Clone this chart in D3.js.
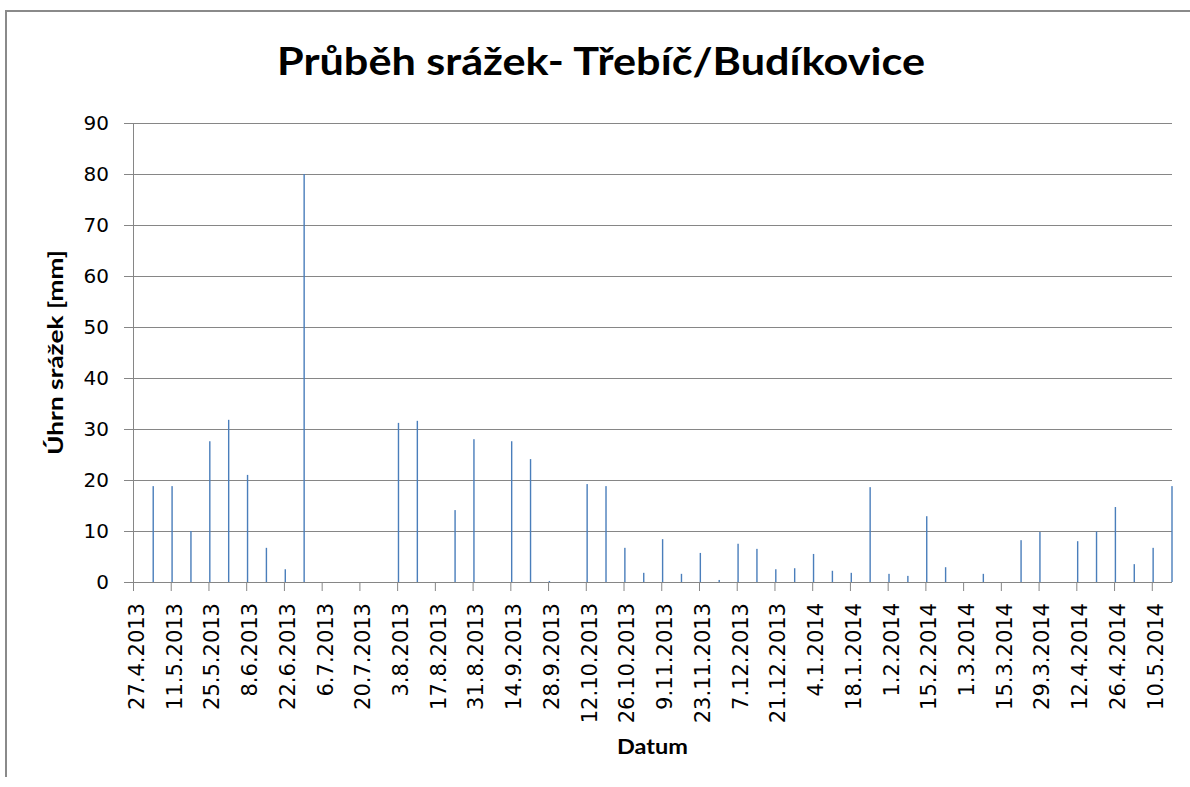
<!DOCTYPE html>
<html>
<head>
<meta charset="utf-8">
<script src="https://cdn.jsdelivr.net/npm/d3@7"></script>
<style>
  body { margin: 0; background: #fff; }
  .tick text { font-family: "DejaVu Sans", sans-serif; fill: #000; }
</style>
</head>
<body>
<svg id="chart"></svg>
<script>
// weekly precipitation totals (mm)
const weekDates = [
  "4.5.2013","11.5.2013","18.5.2013","25.5.2013","1.6.2013","8.6.2013","15.6.2013","22.6.2013","29.6.2013",
  "6.7.2013","13.7.2013","20.7.2013","27.7.2013","3.8.2013","10.8.2013","17.8.2013","24.8.2013","31.8.2013",
  "7.9.2013","14.9.2013","21.9.2013","28.9.2013","5.10.2013","12.10.2013","19.10.2013","26.10.2013",
  "2.11.2013","9.11.2013","16.11.2013","23.11.2013","30.11.2013","7.12.2013","14.12.2013","21.12.2013","28.12.2013",
  "4.1.2014","11.1.2014","18.1.2014","25.1.2014","1.2.2014","8.2.2014","15.2.2014","22.2.2014",
  "1.3.2014","8.3.2014","15.3.2014","22.3.2014","29.3.2014","5.4.2014","12.4.2014","19.4.2014","26.4.2014",
  "3.5.2014","10.5.2014","17.5.2014"
];
const rainfall = [
  18.8, 18.8, 10.0, 27.6, 31.8, 21.0, 6.7, 2.5, 80.0,
  0, 0, 0, 0, 31.2, 31.6, 0, 14.1, 28.0,
  0, 27.6, 24.1, 0.2, 0, 19.2, 18.8, 6.7,
  1.8, 8.4, 1.6, 5.7, 0.4, 7.5, 6.5, 2.5, 2.7,
  5.5, 2.2, 1.8, 18.6, 1.6, 1.2, 12.9, 2.9,
  0, 1.6, 0, 8.2, 9.8, 0, 8.0, 9.9, 14.7,
  3.5, 6.7, 18.8
];
const xTickLabels = [
  "27.4.2013","11.5.2013","25.5.2013","8.6.2013","22.6.2013","6.7.2013","20.7.2013","3.8.2013",
  "17.8.2013","31.8.2013","14.9.2013","28.9.2013","12.10.2013","26.10.2013","9.11.2013","23.11.2013",
  "7.12.2013","21.12.2013","4.1.2014","18.1.2014","1.2.2014","15.2.2014","1.3.2014","15.3.2014",
  "29.3.2014","12.4.2014","26.4.2014","10.5.2014"
];
const yTicks = [0, 10, 20, 30, 40, 50, 60, 70, 80, 90];

const W = 1190, H = 787;
const margin = {top: 123, right: 18, bottom: 205, left: 133};
const width = W - margin.left - margin.right,
      height = H - margin.top - margin.bottom;

const parse = d3.utcParse("%d.%m.%Y");
const halfDay = 12 * 3600 * 1000;

const svg = d3.select("#chart")
  .attr("width", W)
  .attr("height", H);

svg.append("rect").attr("width", W).attr("height", H).attr("fill", "#fff");

// chart frame (only left and top edges are visible)
svg.append("path")
  .attr("d", `M6,777V11H${W}`)
  .attr("fill", "none")
  .attr("stroke", "#8a8a8a")
  .attr("stroke-width", 2);

const g = svg.append("g")
  .attr("transform", `translate(${margin.left},${margin.top})`);

const x = d3.scaleUtc()
  .domain([parse(xTickLabels[0]), new Date(+parse(weekDates[weekDates.length - 1]) + halfDay)])
  .range([0, width]);

const y = d3.scaleLinear()
  .domain([0, 90])
  .range([height, 0]);

// gridlines
g.append("g")
  .selectAll("line")
  .data(yTicks)
  .join("line")
    .attr("x1", 0)
    .attr("x2", width)
    .attr("y1", d => Math.round(y(d)) + 0.5)
    .attr("y2", d => Math.round(y(d)) + 0.5)
    .attr("stroke", "#868686");

// y axis
const yAxis = g.append("g")
  .call(d3.axisLeft(y).tickValues(yTicks).tickSize(9).tickPadding(15).tickFormat(d3.format("d")));
yAxis.selectAll("line, path").attr("stroke", "#868686");
yAxis.select(".domain").attr("d", `M0.5,0V${height}`);
yAxis.selectAll("text").style("font-size", "20px");

// bars
g.selectAll(".bar")
  .data(weekDates.map((d, i) => ({date: parse(d), value: rainfall[i]})))
  .join("rect")
    .attr("class", "bar")
    .attr("x", d => x(new Date(+d.date + halfDay)) - 0.7)
    .attr("width", 1.4)
    .attr("y", d => y(d.value))
    .attr("height", d => height - y(d.value))
    .attr("fill", "#4a7ebb");

// x axis
const xAxis = g.append("g")
  .attr("transform", `translate(0,${height})`)
  .call(d3.axisBottom(x)
    .tickValues(xTickLabels.map(parse))
    .tickSize(9)
    .tickFormat((d, i) => xTickLabels[i]));
xAxis.selectAll("line, path").attr("stroke", "#868686");
xAxis.select(".domain").attr("d", `M0,0.5H${width}`);
xAxis.selectAll("text")
  .style("font-size", "21px")
  .attr("transform", "rotate(-90)")
  .attr("text-anchor", "end")
  .attr("x", -21)
  .attr("y", 3)
  .attr("dy", "0.35em");

// titles
svg.append("text")
  .attr("x", 601)
  .attr("y", 75)
  .attr("text-anchor", "middle")
  .attr("textLength", 648)
  .attr("lengthAdjust", "spacingAndGlyphs")
  .style("font-family", "Lato, sans-serif")
  .style("font-weight", "bold")
  .style("font-size", "38.5px")
  .text("Průběh srážek- Třebíč/Budíkovice");

svg.append("text")
  .attr("transform", `translate(63,${margin.top + height / 2}) rotate(-90)`)
  .attr("text-anchor", "middle")
  .attr("textLength", 205)
  .attr("lengthAdjust", "spacingAndGlyphs")
  .style("font-family", "Lato, sans-serif")
  .style("font-weight", "bold")
  .style("font-size", "20px")
  .text("Úhrn srážek [mm]");

svg.append("text")
  .attr("x", margin.left + width / 2)
  .attr("y", 754)
  .attr("text-anchor", "middle")
  .attr("textLength", 71)
  .attr("lengthAdjust", "spacingAndGlyphs")
  .style("font-family", "Lato, sans-serif")
  .style("font-weight", "bold")
  .style("font-size", "20px")
  .text("Datum");
</script>
</body>
</html>
